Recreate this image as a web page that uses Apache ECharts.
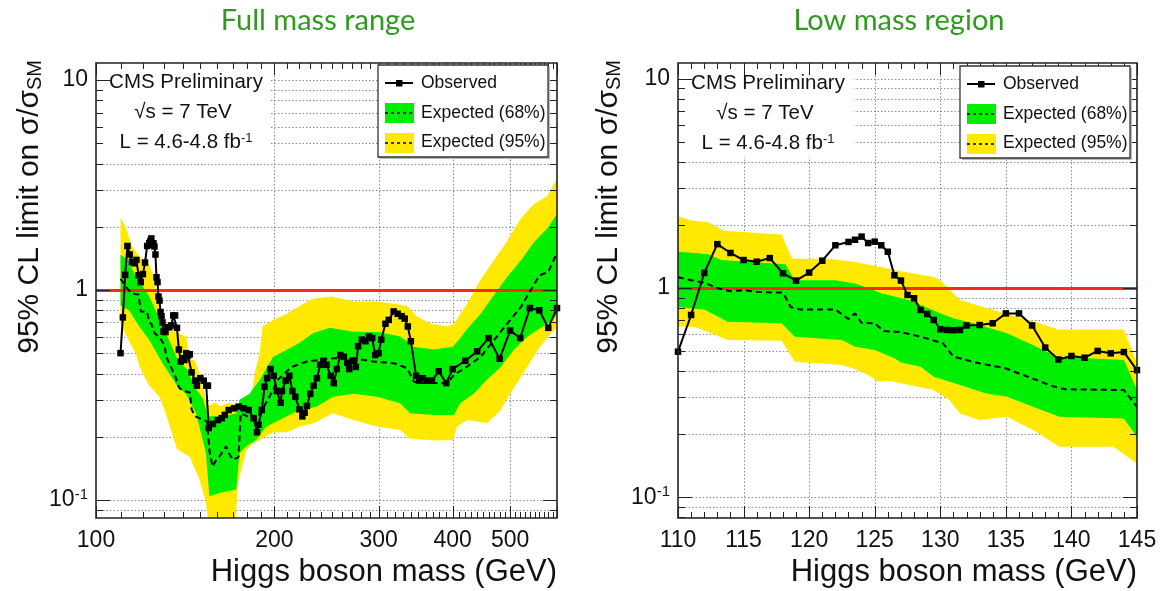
<!DOCTYPE html>
<html><head><meta charset="utf-8">
<script src="https://cdn.jsdelivr.net/npm/echarts@6/dist/echarts.min.js"></script>
<style>html,body{margin:0;padding:0;background:#fff}#c{width:1167px;height:591px}</style>
</head><body><div id="c"></div>
<script>
// ================= DATA =================
// Full mass range (left): [mass GeV, limit]
const fullObs = [[110,0.50],[111,0.74],[112,1.18],[113,1.62],[114,1.475],[115,1.36],[116,1.34],[117,1.39],[118,1.175],[119,1.09],[120,1.19],[121,1.35],[122,1.62],[123,1.67],[123.5,1.71],[124,1.76],[124.5,1.64],[125,1.67],[125.5,1.61],[126,1.475],[126.5,1.15],[127,1.09],[127.5,0.93],[128,0.89],[128.5,0.785],[129,0.75],[129.5,0.70],[130,0.634],[131,0.63],[132,0.665],[133,0.665],[134,0.678],[135,0.756],[136,0.756],[137,0.66],[138,0.52],[139,0.456],[140,0.473],[141,0.464],[142,0.50],[143,0.487],[144,0.494],[145,0.405],[147,0.37],[148,0.35],[150,0.38],[152,0.37],[153.5,0.35],[154.5,0.35],[155,0.22],[157.5,0.23],[160.5,0.24],[163,0.245],[165,0.254],[167.5,0.268],[171,0.273],[174,0.278],[177.5,0.273],[181,0.268],[184.5,0.245],[187,0.21],[188,0.228],[190.5,0.268],[192.5,0.346],[194.5,0.38],[197,0.42],[199.5,0.39],[202,0.33],[205,0.29],[206,0.33],[209,0.37],[212,0.39],[214.5,0.33],[217,0.31],[220.5,0.27],[223,0.25],[225,0.26],[227,0.28],[230,0.32],[233,0.35],[236,0.38],[239,0.44],[242,0.46],[245,0.44],[249,0.39],[252,0.36],[255,0.42],[258.5,0.49],[262,0.48],[265.5,0.45],[267.5,0.42],[271,0.46],[274.5,0.43],[277,0.54],[281,0.58],[285,0.57],[289,0.60],[292.5,0.59],[296,0.49],[300,0.50],[303,0.58],[308,0.69],[312,0.72],[318,0.79],[323,0.77],[328,0.75],[332,0.73],[336,0.67],[340,0.57],[347,0.39],[351,0.37],[356,0.38],[362,0.37],[369,0.37],[379,0.41],[390,0.36],[400,0.42],[420,0.46],[440,0.51],[460,0.59],[480,0.47],[500,0.64],[520,0.59],[540,0.82],[560,0.80],[580,0.66],[600,0.82]];
const fullExp = [[110,1.13],[113,1.015],[115,0.96],[118,0.95],[119,0.79],[122,0.785],[123,0.70],[124,0.69],[125.7,0.62],[128,0.596],[130.5,0.544],[131.5,0.478],[133.5,0.436],[136,0.39],[138,0.344],[140,0.331],[144,0.325],[145,0.27],[147,0.25],[154,0.236],[155.5,0.17],[157.3,0.144],[159.5,0.155],[161.6,0.161],[165.8,0.18],[168,0.165],[170.3,0.155],[174,0.16],[175.5,0.258],[186,0.24],[191,0.27],[199,0.334],[202,0.37],[214,0.43],[227,0.456],[239,0.464],[252,0.473],[272,0.473],[294,0.456],[318,0.448],[335,0.424],[344,0.366],[353,0.36],[372,0.36],[392,0.36],[402,0.394],[423,0.431],[446,0.481],[470,0.578],[495,0.694],[522,0.833],[542,1.0],[560,1.17],[580,1.22],[600,1.5]];
const full68Upper = [[110,1.47],[113,1.4],[116,1.2],[120,1.04],[123,0.93],[126,0.8],[131,0.63],[137.4,0.464],[142.8,0.416],[146.6,0.346],[151.4,0.305],[154.5,0.25],[162.6,0.25],[172.5,0.258],[174.7,0.3],[181.6,0.32],[189,0.373],[199,0.48],[209.5,0.518],[220,0.557],[232,0.62],[248,0.66],[272,0.633],[300,0.63],[326,0.6],[335,0.57],[343,0.537],[372,0.52],[400,0.537],[410,0.58],[423,0.65],[446,0.77],[470,0.95],[495,1.16],[522,1.39],[549,1.69],[578,1.97],[600,2.3]];
const full68Lower = [[110,0.84],[113.7,0.8],[118.3,0.67],[123,0.578],[129.5,0.447],[137.4,0.346],[141.8,0.32],[147.6,0.258],[153.3,0.167],[155.4,0.104],[161.6,0.108],[172.5,0.112],[174.7,0.167],[179.4,0.18],[186.4,0.193],[193.7,0.223],[204,0.24],[220.6,0.268],[235.6,0.278],[251.5,0.31],[272,0.32],[298,0.31],[326,0.289],[339,0.259],[372,0.254],[402,0.254],[412,0.289],[434,0.32],[457,0.373],[482,0.43],[508,0.52],[535,0.6],[564,0.66],[582,0.7],[600,0.76]];
const full95Upper = [[110,2.2],[112,2.02],[115,1.62],[119,1.42],[123,1.32],[125,1.16],[127,0.93],[131,0.67],[136,0.63],[142,0.6],[143.5,0.47],[147,0.46],[149.5,0.4],[152,0.33],[154.5,0.28],[159,0.29],[162,0.28],[168,0.29],[174.5,0.28],[176,0.29],[183,0.32],[186,0.42],[189,0.5],[191,0.67],[199,0.72],[210,0.77],[224,0.86],[233,0.91],[250,0.93],[272,0.88],[298,0.88],[318,0.86],[335,0.84],[348,0.75],[367,0.69],[392,0.67],[402,0.69],[423,0.86],[446,1.12],[470,1.39],[495,1.72],[522,2.2],[549,2.57],[578,2.8],[600,3.4]];
const full95Lower = [[110,0.70],[112,0.62],[117,0.49],[118.5,0.43],[123,0.35],[128,0.31],[131,0.26],[137,0.175],[144,0.16],[149.5,0.125],[153,0.1],[155,0.078],[172,0.078],[173.5,0.12],[179.5,0.173],[184.5,0.187],[189,0.193],[199,0.21],[210,0.21],[221,0.2235],[233,0.232],[251,0.259],[272,0.24],[298,0.2235],[326,0.215],[338,0.196],[372,0.192],[400,0.193],[407,0.2235],[423,0.24],[457,0.232],[481,0.265],[500,0.32],[520,0.38],[540,0.45],[560,0.53],[580,0.6],[600,0.66]];

// Low mass region (right)
const lowObs = [[110,0.496],[111,0.743],[112,1.18],[113,1.62],[114,1.47],[115,1.36],[116,1.335],[117,1.39],[118,1.176],[119,1.085],[120,1.185],[121,1.35],[122,1.6],[123,1.66],[123.5,1.7],[124,1.76],[124.5,1.64],[125,1.665],[125.5,1.6],[126,1.49],[126.5,1.15],[127,1.085],[127.5,0.926],[128,0.893],[128.5,0.785],[129,0.751],[129.5,0.703],[130,0.635],[130.5,0.63],[131,0.628],[131.5,0.63],[132,0.662],[133,0.665],[134,0.678],[135,0.756],[136,0.756],[137,0.662],[138,0.519],[139,0.455],[140,0.473],[141,0.464],[142,0.50],[143,0.487],[144,0.494],[145,0.405]];
const lowExp = [[110,1.125],[111,1.09],[112,1.06],[113,1.0],[114,0.965],[115,0.975],[116,0.96],[117,0.953],[118,0.95],[118.6,0.81],[119.3,0.79],[122,0.79],[123,0.71],[123.5,0.756],[124,0.68],[125,0.678],[125.7,0.622],[127,0.615],[128.5,0.585],[130.2,0.544],[131,0.47],[133,0.436],[135,0.413],[136,0.39],[137,0.37],[138.5,0.34],[139.5,0.328],[144,0.325],[145,0.27]];
const low68Upper = [[110,1.49],[111.3,1.47],[112.3,1.45],[113.3,1.36],[118.2,1.3],[118.9,1.09],[122,1.09],[123.5,1.05],[124.5,1.0],[125.5,0.943],[126.5,0.91],[128.1,0.86],[128.5,0.829],[130,0.757],[131,0.716],[132.5,0.678],[135.1,0.607],[137.1,0.533],[138.9,0.469],[144,0.453],[145,0.325]];
const low68Lower = [[110,0.81],[112,0.79],[113.8,0.69],[117.9,0.678],[118.9,0.585],[122.5,0.564],[123.5,0.524],[125,0.505],[126.5,0.461],[127,0.44],[128.5,0.42],[129.5,0.376],[131.5,0.344],[133.5,0.313],[135.1,0.302],[137.1,0.27],[139.1,0.242],[144,0.238],[145,0.194]];
const low95Upper = [[110,2.2],[111,2.1],[112.3,2.06],[113.5,1.88],[117.9,1.8],[118.7,1.38],[121.5,1.38],[123.5,1.33],[125.5,1.26],[126.5,1.22],[129.5,1.13],[130,1.09],[131.5,0.876],[134.5,0.77],[137.5,0.68],[139,0.634],[144,0.634],[145,0.436]];
const low95Lower = [[110,0.655],[111.3,0.65],[113.8,0.564],[117.9,0.56],[118.9,0.444],[122.5,0.428],[123.5,0.41],[124.5,0.384],[125.3,0.356],[126,0.36],[127,0.35],[129.5,0.325],[130.7,0.291],[131.5,0.251],[133,0.234],[135.1,0.242],[137.1,0.209],[139.1,0.174],[143.2,0.174],[145,0.145]];

// axis ranges, labels and grid values
const fullXRange = [100, 600];
const lowXRange = [110, 145];
const fullYRange = [0.082, 12.05];
const lowYRange = [0.0795, 11.9];
const fullXLabels = [100, 200, 300, 400, 500];
const yLabels = [0.1, 1, 10];
const fullXGrid = [200, 300, 400, 500];
const lowXGrid = [115, 120, 125, 130, 135, 140];
const yGrid = [0.08, 0.09, 0.1, 0.2, 0.3, 0.4, 0.5, 0.6, 0.7, 0.8, 0.9, 1, 2, 3, 4, 5, 6, 7, 8, 9, 10];
const yMajor = [0.1, 1, 10];
const limitRef = 1;
const fullXTicks = []; for (let m = 100; m <= 600; m += 10) fullXTicks.push(m);
const lowXTicks = []; for (let m = 110; m <= 145; m += 1) lowXTicks.push(m);

// ================= CHART =================
const FONT = '"Liberation Sans", Arial, Helvetica, sans-serif';
const chart = echarts.init(document.getElementById('c'), null, {width: 1167, height: 591});

function gridLines(idx, xr, yr, xGrid, yVals) {
  return {
    type: 'custom', xAxisIndex: idx, yAxisIndex: idx, z: 1, silent: true,
    data: [[xr[0], yr[0]]],
    renderItem(params, api) {
      if (params.dataIndex !== 0) return null;
      const a = api.coord([xr[0], yr[0]]), b = api.coord([xr[1], yr[1]]);
      const ch = [];
      const st = () => ({stroke: '#8c8c8c', lineWidth: 1, lineDash: [1.5, 2]});
      xGrid.forEach(v => {
        const x = Math.round(api.coord([v, yr[0]])[0]) + 0.5;
        ch.push({type: 'line', shape: {x1: x, y1: a[1], x2: x, y2: b[1]}, style: st()});
      });
      yVals.forEach(v => {
        if (v < yr[0] || v > yr[1]) return;
        const y = Math.round(api.coord([xr[0], v])[1]) + 0.5;
        ch.push({type: 'line', shape: {x1: a[0], y1: y, x2: b[0], y2: y}, style: st()});
      });
      return {type: 'group', children: ch};
    }
  };
}

function band(idx, name, upper, lower, color, z) {
  return {
    type: 'custom', name, xAxisIndex: idx, yAxisIndex: idx, z, silent: true,
    data: upper, encode: {x: 0, y: 1},
    renderItem(params, api) {
      if (params.dataIndex !== 0) return null;
      const up = upper.map(d => api.coord(d));
      const lo = lower.map(d => api.coord(d)).reverse();
      const cs = params.coordSys;
      return {
        type: 'polygon', shape: {points: up.concat(lo)}, style: {fill: color},
        clipPath: {type: 'rect', shape: {x: cs.x, y: cs.y, width: cs.width, height: cs.height}}
      };
    }
  };
}

function frame(idx, xr, yr, xTicks, xMajor, yTicks) {
  return {
    type: 'custom', xAxisIndex: idx, yAxisIndex: idx, z: 8, silent: true,
    data: [[xr[0], yr[0]]],
    renderItem(params, api) {
      if (params.dataIndex !== 0) return null;
      const a = api.coord([xr[0], yr[0]]), b = api.coord([xr[1], yr[1]]);
      const ch = [];
      const st = () => ({stroke: '#222', lineWidth: 1});
      xTicks.forEach(v => {
        const x = Math.round(api.coord([v, yr[0]])[0]) + 0.5;
        const L = xMajor.indexOf(v) >= 0 ? 12 : 6;
        ch.push({type: 'line', shape: {x1: x, y1: a[1], x2: x, y2: a[1] - L}, style: st()});
        ch.push({type: 'line', shape: {x1: x, y1: b[1], x2: x, y2: b[1] + L}, style: st()});
      });
      yTicks.forEach(v => {
        if (v < yr[0] || v > yr[1]) return;
        const y = Math.round(api.coord([xr[0], v])[1]) + 0.5;
        const L = yMajor.indexOf(v) >= 0 ? 14 : 7;
        ch.push({type: 'line', shape: {x1: a[0], y1: y, x2: a[0] + L, y2: y}, style: st()});
        ch.push({type: 'line', shape: {x1: b[0], y1: y, x2: b[0] - L, y2: y}, style: st()});
      });
      ch.push({type: 'rect', shape: {x: a[0], y: b[1], width: b[0] - a[0], height: a[1] - b[1]},
        style: {fill: null, stroke: '#222', lineWidth: 1.6}});
      return {type: 'group', children: ch};
    }
  };
}

function expLine(idx, data) {
  return {
    type: 'line', name: 'Expected', xAxisIndex: idx, yAxisIndex: idx, z: 5, data,
    symbol: 'none', silent: true,
    lineStyle: {color: '#000', width: 2, type: [6, 4]},
    markLine: {silent: true, symbol: 'none', z: 5, label: {show: false},
      lineStyle: {color: '#ff2a10', width: 3, type: 'solid'},
      data: [{yAxis: limitRef}]}
  };
}
function obsLine(idx, data) {
  return {
    type: 'line', name: 'Observed', xAxisIndex: idx, yAxisIndex: idx, z: 6, data,
    symbol: 'rect', symbolSize: 6.5, showAllSymbol: true, silent: true,
    lineStyle: {color: '#000', width: 2}, itemStyle: {color: '#000'}
  };
}

const yLabelFmt = v => {
  const e = Math.round(Math.log10(v));
  if (e === 0) return '{b|1}';
  if (e === 1) return '{b|10}';
  return '{b|10}{s|' + e + '}';
};
const labelRich = {
  b: {fontSize: 23, fontFamily: FONT, color: '#111', lineHeight: 26},
  s: {fontSize: 15, fontFamily: FONT, color: '#111', verticalAlign: 'top'}
};

function yAxisDef(idx, yr) {
  return {
    gridIndex: idx, type: 'log', logBase: 10, min: yr[0], max: yr[1],
    axisLine: {show: false}, axisTick: {show: false}, splitLine: {show: false},
    axisLabel: {customValues: yLabels, formatter: yLabelFmt, rich: labelRich, margin: 8}
  };
}

function legend(bx, by) {
  const tf = '17.5px ' + FONT;
  return [
    {type: 'rect', z: 20, shape: {x: bx + 2, y: by + 2, width: 170, height: 92}, style: {fill: '#bbb'}},
    {type: 'rect', z: 21, shape: {x: bx, y: by, width: 170, height: 92}, style: {fill: '#fff', stroke: '#333', lineWidth: 1.3}},
    {type: 'line', z: 22, shape: {x1: bx + 7, y1: by + 18, x2: bx + 35, y2: by + 18}, style: {stroke: '#000', lineWidth: 2}},
    {type: 'rect', z: 22, shape: {x: bx + 18, y: by + 15, width: 6.5, height: 6.5}, style: {fill: '#000'}},
    {type: 'text', z: 22, x: bx + 43, y: by + 18, style: {text: 'Observed', font: tf, fill: '#111', verticalAlign: 'middle'}},
    {type: 'rect', z: 22, shape: {x: bx + 7, y: by + 38, width: 29, height: 20}, style: {fill: '#00ee00'}},
    {type: 'line', z: 22, shape: {x1: bx + 7, y1: by + 48, x2: bx + 36, y2: by + 48}, style: {stroke: '#000', lineWidth: 1.5, lineDash: [3, 3]}},
    {type: 'text', z: 22, x: bx + 43, y: by + 48, style: {text: 'Expected (68%)', font: tf, fill: '#111', verticalAlign: 'middle'}},
    {type: 'rect', z: 22, shape: {x: bx + 7, y: by + 68, width: 29, height: 20}, style: {fill: '#ffe900'}},
    {type: 'line', z: 22, shape: {x1: bx + 7, y1: by + 78, x2: bx + 36, y2: by + 78}, style: {stroke: '#000', lineWidth: 1.5, lineDash: [3, 3]}},
    {type: 'text', z: 22, x: bx + 43, y: by + 77, style: {text: 'Expected (95%)', font: tf, fill: '#111', verticalAlign: 'middle'}}
  ];
}

function cmsText(cx, cy) {
  return [
    {type: 'text', z: 22, x: cx, y: cy, style: {text: 'CMS Preliminary', font: '20.5px ' + FONT, fill: '#111', align: 'center', verticalAlign: 'middle'}},
    {type: 'text', z: 22, x: cx - 3, y: cy + 30, style: {text: '√s = 7 TeV', font: '20.5px ' + FONT, fill: '#111', align: 'center', verticalAlign: 'middle'}},
    {type: 'text', z: 22, x: cx, y: cy + 60, style: {text: '{a|L = 4.6-4.8 fb}{p|-1}', align: 'center', verticalAlign: 'middle',
      rich: {a: {fontSize: 20.5, fontFamily: FONT, fill: '#111'}, p: {fontSize: 13, fontFamily: FONT, fill: '#111', verticalAlign: 'top'}}}}
  ];
}

function yTitle(x) {
  return {type: 'text', z: 22, x, y: 60, rotation: Math.PI / 2,
    style: {text: '{m|95% CL limit on σ/σ}{s|SM}', align: 'right', verticalAlign: 'middle',
      rich: {m: {fontSize: 30, fontFamily: FONT, fill: '#111'}, s: {fontSize: 20, fontFamily: FONT, fill: '#111', verticalAlign: 'bottom'}}}};
}
function xTitle(x) {
  return {type: 'text', z: 22, x, y: 572, style: {text: 'Higgs boson mass (GeV)', font: '31px ' + FONT, fill: '#111', align: 'right', verticalAlign: 'middle'}};
}

const option = {
  animation: false,
  backgroundColor: '#fff',
  textStyle: {fontFamily: FONT},
  grid: [
    {left: 96, top: 63, width: 461, height: 455},
    {left: 678, top: 63, width: 459, height: 455}
  ],
  xAxis: [
    {gridIndex: 0, type: 'log', logBase: 10, min: fullXRange[0], max: fullXRange[1],
      axisLine: {show: false}, axisTick: {show: false}, splitLine: {show: false},
      axisLabel: {customValues: fullXLabels, fontSize: 23, color: '#111', margin: 11, fontFamily: FONT,
        formatter: v => String(Math.round(v))}},
    {gridIndex: 1, type: 'value', min: lowXRange[0], max: lowXRange[1], interval: 5,
      axisLine: {show: false}, axisTick: {show: false}, splitLine: {show: false},
      axisLabel: {fontSize: 23, color: '#111', margin: 11, fontFamily: FONT}}
  ],
  yAxis: [yAxisDef(0, fullYRange), yAxisDef(1, lowYRange)],
  series: [
    gridLines(0, fullXRange, fullYRange, fullXGrid, yGrid),
    band(0, 'Expected (95%)', full95Upper, full95Lower, '#ffe900', 3),
    band(0, 'Expected (68%)', full68Upper, full68Lower, '#00ee00', 4),
    expLine(0, fullExp),
    obsLine(0, fullObs),
    frame(0, fullXRange, fullYRange, fullXTicks, fullXLabels.concat([600]), yGrid),
    gridLines(1, lowXRange, lowYRange, lowXGrid, yGrid),
    band(1, 'Expected (95%)', low95Upper, low95Lower, '#ffe900', 3),
    band(1, 'Expected (68%)', low68Upper, low68Lower, '#00ee00', 4),
    expLine(1, lowExp),
    obsLine(1, lowObs),
    frame(1, lowXRange, lowYRange, lowXTicks, [110, 115, 120, 125, 130, 135, 140, 145], yGrid)
  ],
  graphic: [
    {type: 'rect', z: 2, shape: {x: 98, y: 65, width: 173, height: 94}, style: {fill: '#fff'}},
    {type: 'rect', z: 2, shape: {x: 680, y: 65, width: 174, height: 92}, style: {fill: '#fff'}},
    {type: 'text', z: 22, x: 318, y: 21, style: {text: 'Full mass range', font: '29px Lato, "Open Sans", sans-serif', fill: '#2f9a1e', align: 'center', verticalAlign: 'middle'}},
    {type: 'text', z: 22, x: 899, y: 21, style: {text: 'Low mass region', font: '29px Lato, "Open Sans", sans-serif', fill: '#2f9a1e', align: 'center', verticalAlign: 'middle'}},
    yTitle(30), yTitle(609),
    xTitle(557), xTitle(1137)
  ].concat(cmsText(186, 82), cmsText(768, 83), legend(378, 65), legend(960, 66))
};
chart.setOption(option);
</script>
</body></html>
